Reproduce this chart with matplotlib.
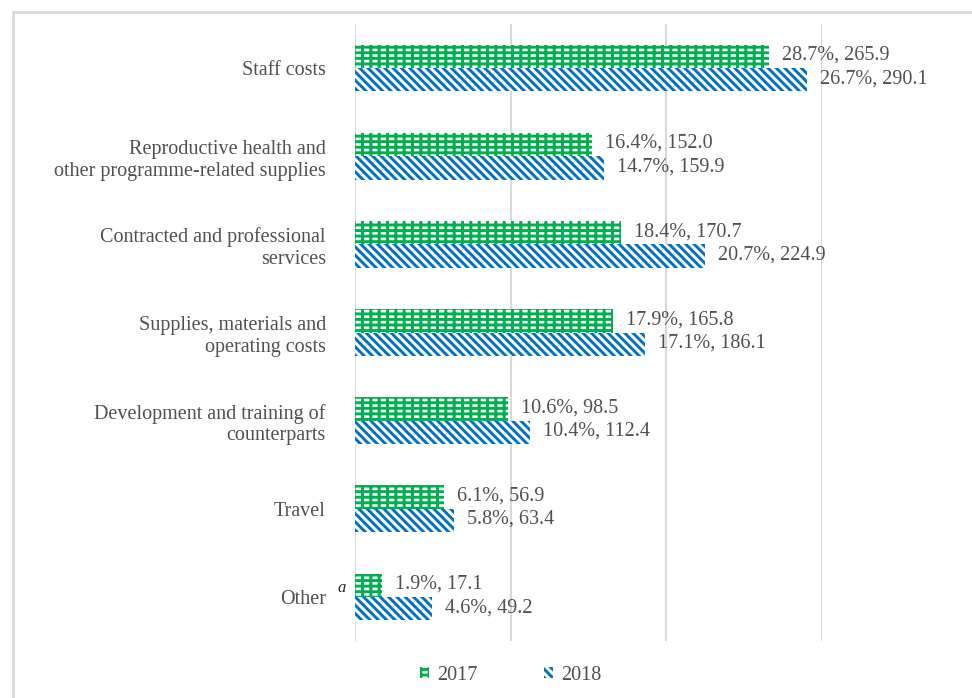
import numpy as np
import matplotlib
matplotlib.use("Agg")
import matplotlib.pyplot as plt
from matplotlib.patches import Patch
from matplotlib.lines import Line2D

categories = ["Staff costs",
              "Reproductive health and\nother programme-related supplies",
              "Contracted and professional\nservices",
              "Supplies, materials and\noperating costs",
              "Development and training of\ncounterparts",
              "Travel",
              "Other"]
vals_2017 = [265.9, 152.0, 170.7, 165.8, 98.5, 56.9, 17.1]
pct_2017 = [28.7, 16.4, 18.4, 17.9, 10.6, 6.1, 1.9]
vals_2018 = [290.1, 159.9, 224.9, 186.1, 112.4, 63.4, 49.2]
pct_2018 = [26.7, 14.7, 20.7, 17.1, 10.4, 5.8, 4.6]
series = ["2017", "2018"]

green = "#00B050"
blue = "#0070C0"
grey = "#D9D9D9"
txt = "#505050"
fs = 14.5

plt.rcParams["font.family"] = ["Liberation Serif", "DejaVu Serif"]
plt.rcParams["hatch.linewidth"] = 2.1

fig = plt.figure(figsize=(9.72, 6.98), dpi=100)
ax = fig.add_axes([355 / 972, 1 - 641 / 698, (822 - 355) / 972, (641 - 24) / 698])

y = np.arange(len(categories))
h = 0.265
hatch17 = "---||"
hatch18 = "\\\\\\\\"
ax.barh(y - h / 2, vals_2017, height=h, color="white", edgecolor=green,
        hatch=hatch17, linewidth=0, zorder=3)
ax.barh(y + h / 2, vals_2018, height=h, color="white", edgecolor=blue,
        hatch=hatch18, linewidth=0, zorder=3)

for i in range(len(categories)):
    ax.annotate(f"{pct_2017[i]}%, {vals_2017[i]}", (vals_2017[i], y[i] - h / 2),
                xytext=(13, 1), textcoords="offset pixels", va="center",
                ha="left", fontsize=fs, color=txt, annotation_clip=False)
    ax.annotate(f"{pct_2018[i]}%, {vals_2018[i]}", (vals_2018[i], y[i] + h / 2),
                xytext=(13, 1), textcoords="offset pixels", va="center",
                ha="left", fontsize=fs, color=txt, annotation_clip=False)

ax.set_xlim(0, 300)
ax.set_ylim(len(categories) - 0.5, -0.5)
ax.set_xticks([0, 100, 200, 300])
ax.set_xticklabels([])
ax.set_yticks(y)
ax.set_yticklabels(categories, fontsize=fs, color=txt, linespacing=1.2)
ax.tick_params(axis="both", length=0)
ax.tick_params(axis="y", pad=21)
ax.grid(axis="x", color=grey, linewidth=1.5, zorder=0)
for s in ax.spines.values():
    s.set_visible(False)

# superscript note on "Other"
ax.annotate("a", (0, y[-1]), xytext=(-17, 9), textcoords="offset pixels",
            fontsize=12, style="italic", color="#262626", va="center",
            ha="left", annotation_clip=False)

handles = [Patch(facecolor="white", edgecolor=green, hatch=hatch17, linewidth=0),
           Patch(facecolor="white", edgecolor=blue, hatch=hatch18, linewidth=0)]
leg = fig.legend(handles, series, loc="center", bbox_to_anchor=(0.525, 1 - 675 / 698),
                 ncol=2, frameon=False, fontsize=fs, handlelength=0.45,
                 handleheight=0.45, columnspacing=3.3, handletextpad=0.4)
for t in leg.get_texts():
    t.set_color(txt)

# chart border (left and top edges visible)
fig.add_artist(Line2D([13 / 972, 13 / 972], [0, 1 - 12 / 698], transform=fig.transFigure,
                      color=grey, linewidth=2))
fig.add_artist(Line2D([13 / 972, 1], [1 - 12 / 698, 1 - 12 / 698], transform=fig.transFigure,
                      color=grey, linewidth=2))

fig.savefig("out.png", dpi=100)
